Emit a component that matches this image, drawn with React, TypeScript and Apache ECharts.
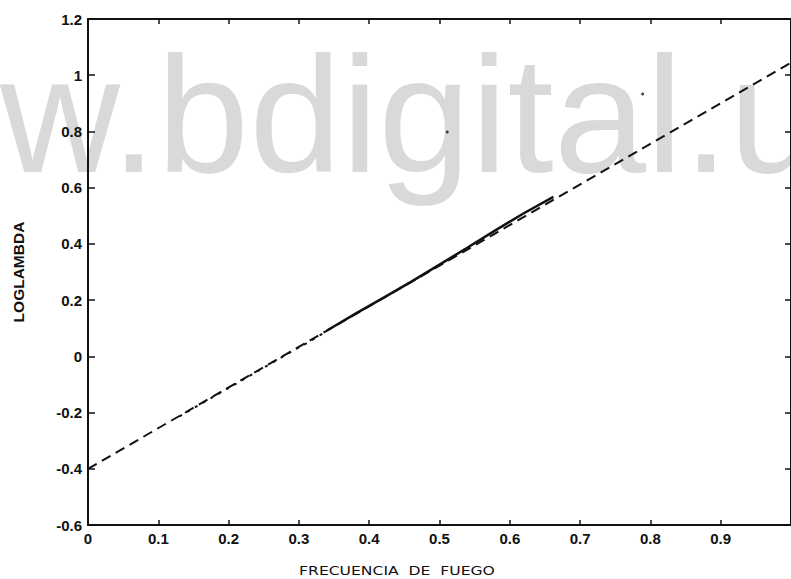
import React, { useEffect, useRef } from "react";
import * as echarts from "echarts";

// Fitted (dashed) line
const fitX = [0, 1.0];
const fitY = [-0.4, 1.045];

// Dotted portion of the data curve
const dotX = [0.13, 0.16, 0.2, 0.24, 0.28, 0.32, 0.34];
const dotY = [-0.214, -0.17, -0.113, -0.055, 0.003, 0.06, 0.09];

// Solid portion of the data curve
const dataX = [0.34, 0.38, 0.42, 0.46, 0.5, 0.54, 0.58, 0.62, 0.662];
const dataY = [0.092, 0.151, 0.208, 0.266, 0.326, 0.387, 0.449, 0.509, 0.567];

// Stray specks of the scanned plot
const speckX = [0.789, 0.511];
const speckY = [0.933, 0.798];

const xTicks = [0, 0.1, 0.2, 0.3, 0.4, 0.5, 0.6, 0.7, 0.8, 0.9];
const yTicks = [-0.6, -0.4, -0.2, 0, 0.2, 0.4, 0.6, 0.8, 1, 1.2];

const zip = (xs: number[], ys: number[]) => xs.map((x, i) => [x, ys[i]]);

const FONT = '"Liberation Sans", Arial, sans-serif';

export default function App() {
  const ref = useRef<HTMLDivElement>(null);
  useEffect(() => {
    if (!ref.current) return;
    const chart = echarts.init(ref.current, undefined, { renderer: "svg" });
    const axisLine = { show: true, onZero: false, lineStyle: { color: "#111", width: 2 } };
    chart.setOption({
      animation: false,
      backgroundColor: "#fff",
      grid: { left: 88, top: 19, width: 704, height: 506 },
      graphic: [
        {
          type: "text",
          z: -10,
          x: 0,
          y: 114,
          style: {
            text: "w.bdigital.u",
            font: '166px "Liberation Sans", Arial, sans-serif',
            fill: "#d9d9d9",
            align: "left",
            verticalAlign: "middle",
          },
        },
        {
          type: "text",
          x: 397,
          y: 570,
          scaleX: 1.2,
          style: {
            text: "FRECUENCIA  DE  FUEGO",
            font: '13px "DejaVu Sans", sans-serif',
            fill: "#111",
            align: "center",
            verticalAlign: "middle",
          },
        },
      ],
      xAxis: [
        {
          type: "value",
          position: "bottom",
          min: 0,
          max: 1,
          interval: 0.1,
          axisLine,
          splitLine: { show: false },
          axisTick: { inside: true, length: 5, lineStyle: { color: "#111", width: 1.5 } },
          axisLabel: {
            showMaxLabel: false,
            margin: 6,
            color: "#111",
            fontFamily: FONT,
            fontWeight: "bold",
            fontSize: 15,
            formatter: (v: number) => {
              const t = xTicks.find((k) => Math.abs(k - v) < 1e-6);
              return t === undefined ? "" : String(t);
            },
          },
        },
        {
          type: "value",
          position: "top",
          min: 0,
          max: 1,
          interval: 0.1,
          axisLine,
          splitLine: { show: false },
          axisTick: { inside: true, length: 5, lineStyle: { color: "#111", width: 1.5 } },
          axisLabel: { show: false },
        },
      ],
      yAxis: [
        {
          type: "value",
          position: "left",
          min: -0.6,
          max: 1.2,
          interval: 0.2,
          name: "LOGLAMBDA",
          nameLocation: "middle",
          nameGap: 62,
          nameTextStyle: { color: "#111", fontFamily: FONT, fontWeight: "bold", fontSize: 15.5 },
          axisLine,
          splitLine: { show: false },
          axisTick: { inside: true, length: 7, lineStyle: { color: "#111", width: 1.5 } },
          axisLabel: {
            margin: 6,
            color: "#111",
            fontFamily: FONT,
            fontWeight: "bold",
            fontSize: 15,
            formatter: (v: number) => {
              const t = yTicks.find((k) => Math.abs(k - v) < 1e-6);
              return t === undefined ? "" : String(t);
            },
          },
        },
        {
          type: "value",
          position: "right",
          min: -0.6,
          max: 1.2,
          interval: 0.2,
          axisLine,
          splitLine: { show: false },
          axisTick: { inside: true, length: 6, lineStyle: { color: "#111", width: 1.5 } },
          axisLabel: { show: false },
        },
      ],
      series: [
        {
          name: "Ajuste",
          type: "line",
          data: zip(fitX, fitY),
          showSymbol: false,
          lineStyle: { color: "#111", width: 2, type: [10, 6] },
        },
        {
          name: "Datos (punteado)",
          type: "line",
          data: zip(dotX, dotY),
          showSymbol: false,
          lineStyle: { color: "#111", width: 2, type: [3, 6] },
        },
        {
          name: "Datos",
          type: "line",
          data: zip(dataX, dataY),
          showSymbol: false,
          lineStyle: { color: "#111", width: 2.5 },
        },
        {
          name: "Manchas",
          type: "scatter",
          data: zip(speckX, speckY),
          symbolSize: 3,
          itemStyle: { color: "#111" },
        },
      ],
    });
    return () => chart.dispose();
  }, []);
  return (
    <div
      ref={ref}
      style={{ position: "fixed", left: 0, top: 0, width: 791, height: 579 }}
    />
  );
}
